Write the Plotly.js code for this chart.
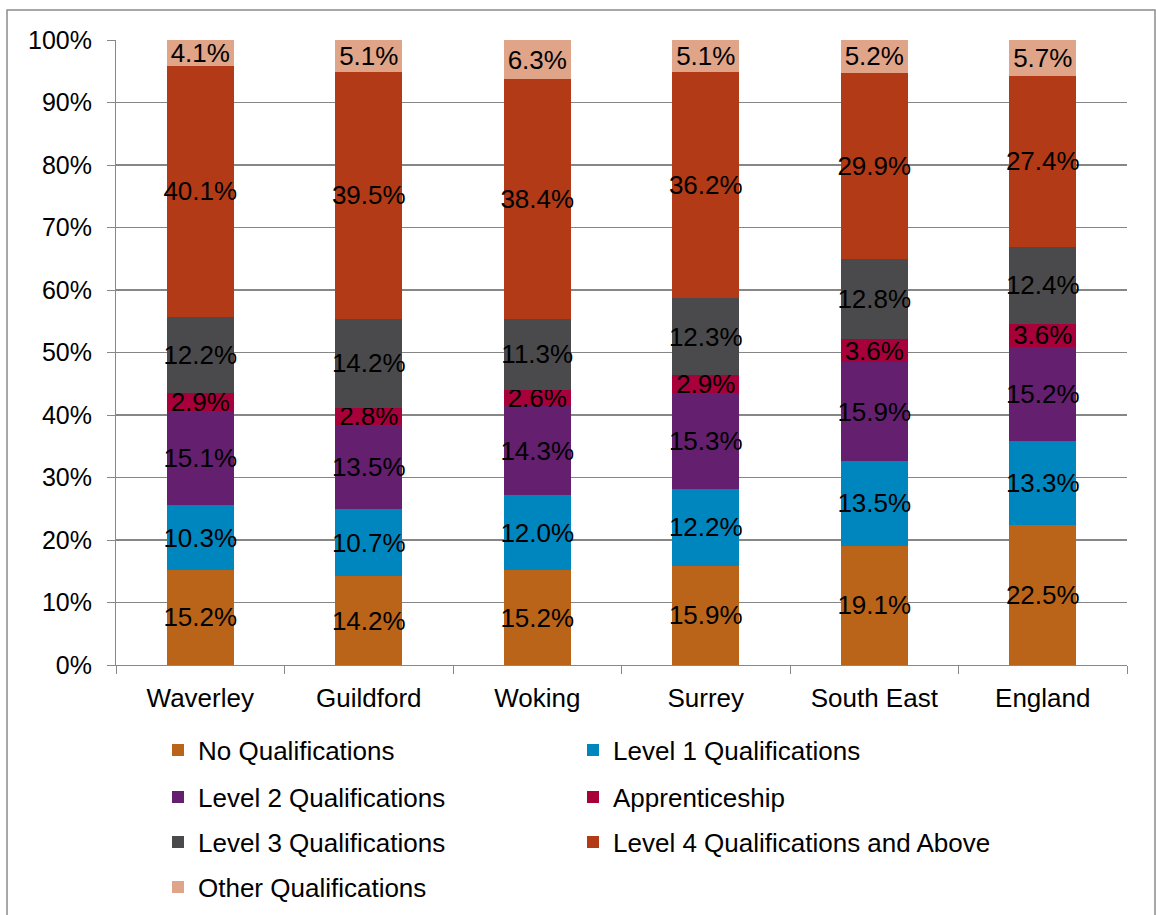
<!DOCTYPE html>
<html>
<head>
<meta charset="utf-8">
<script src="https://cdn.plot.ly/plotly-3.0.1.min.js"></script>
<style>html,body{margin:0;padding:0;background:#fff;}#chart{width:1156px;height:915px;}</style>
</head>
<body>
<div id="chart"></div>
<script>
const categories = ["Waverley", "Guildford", "Woking", "Surrey", "South East", "England"];
const seriesNames = ["No Qualifications", "Level 1 Qualifications", "Level 2 Qualifications", "Apprenticeship", "Level 3 Qualifications", "Level 4 Qualifications and Above", "Other Qualifications"];
const noQualifications = [15.2, 14.2, 15.2, 15.9, 19.1, 22.5];
const level1 = [10.3, 10.7, 12.0, 12.2, 13.5, 13.3];
const level2 = [15.1, 13.5, 14.3, 15.3, 15.9, 15.2];
const apprenticeship = [2.9, 2.8, 2.6, 2.9, 3.6, 3.6];
const level3 = [12.2, 14.2, 11.3, 12.3, 12.8, 12.4];
const level4 = [40.1, 39.5, 38.4, 36.2, 29.9, 27.4];
const other = [4.1, 5.1, 6.3, 5.1, 5.2, 5.7];
const yTickVals = [0, 10, 20, 30, 40, 50, 60, 70, 80, 90, 100];

const seriesValues = [noQualifications, level1, level2, apprenticeship, level3, level4, other];
const colors = ["#BA6419", "#0086BF", "#641F6E", "#A8003A", "#4A4A4C", "#B23A16", "#E0A488"];
const FONT = "Liberation Sans, Arial, sans-serif";

const legendKey = i => (i === 0 ? "legend" : "legend" + (i + 1));

const traces = seriesValues.map((vals, i) => ({
  type: "bar",
  name: seriesNames[i],
  x: categories,
  y: vals,
  text: vals.map(v => v.toFixed(1) + "%"),
  textposition: "inside",
  insidetextanchor: "middle",
  constraintext: "none",
  textangle: 0,
  textfont: {family: FONT, size: 26, color: "#000"},
  marker: {color: colors[i], line: {width: 0}},
  legend: legendKey(i),
  hoverinfo: "skip"
}));

const colX = [158, 573];
const rowY = [750, 797, 842, 887];

const layout = {
  width: 1156, height: 915,
  paper_bgcolor: "#fff", plot_bgcolor: "#fff",
  margin: {l: 116, r: 29, t: 40, b: 250},
  barmode: "stack",
  barnorm: "percent",
  bargap: 0.6,
  font: {family: FONT, size: 25, color: "#000"},
  xaxis: {
    type: "category",
    tickson: "boundaries",
    ticks: "outside", ticklen: 8, tickcolor: "#888", tickwidth: 1,
    showline: true, linecolor: "#888", linewidth: 1,
    showgrid: false,
    ticklabelstandoff: 10,
    tickfont: {family: FONT, size: 26, color: "#000"}
  },
  yaxis: {
    range: [0, 100],
    tickvals: yTickVals,
    ticktext: yTickVals.map(v => v + "%"),
    ticks: "outside", ticklen: 8, tickcolor: "#888", tickwidth: 1,
    showline: true, linecolor: "#888", linewidth: 1,
    showgrid: true, gridcolor: "#868686", gridwidth: 1.3,
    zeroline: false,
    ticklabelstandoff: 10,
    tickfont: {family: FONT, size: 25, color: "#000"}
  },
  showlegend: true,
  shapes: [{
    type: "rect", xref: "paper", yref: "paper",
    x0: (7 - 116) / 1011, x1: (1155 - 116) / 1011,
    y0: (665 - 925) / 625, y1: (665 - 10) / 625,
    line: {color: "#8c8c8c", width: 1.5}, fillcolor: "rgba(0,0,0,0)", layer: "below"
  }]
};

seriesNames.forEach((n, i) => {
  layout[legendKey(i)] = {
    orientation: "h",
    xref: "container", yref: "container",
    x: colX[i % 2] / 1156, xanchor: "left",
    y: 1 - rowY[Math.floor(i / 2)] / 915, yanchor: "middle",
    font: {family: FONT, size: 26, color: "#000"},
    bgcolor: "rgba(0,0,0,0)",
    itemclick: false, itemdoubleclick: false
  };
});

Plotly.newPlot("chart", traces, layout, {displayModeBar: false, staticPlot: true});
</script>
</body>
</html>
